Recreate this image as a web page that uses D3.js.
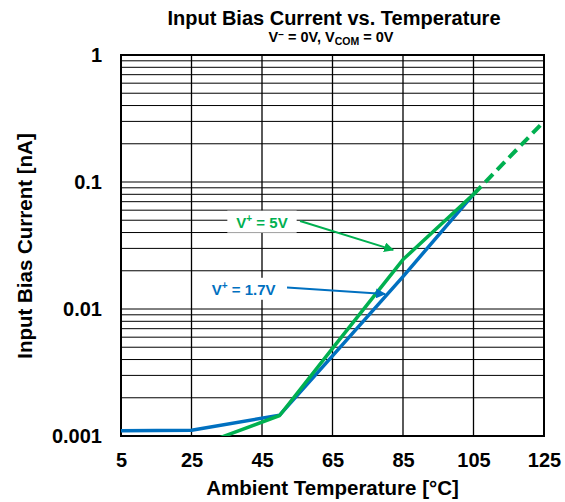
<!DOCTYPE html>
<html>
<head>
<meta charset="utf-8">
<script src="https://cdn.jsdelivr.net/npm/d3@7"></script>
<style>
  html, body { margin: 0; padding: 0; background: #fff; }
  svg text { font-family: Arial, "Liberation Sans", sans-serif; font-weight: bold; }
</style>
</head>
<body>
<svg id="chart" width="565" height="502"></svg>
<script>
// Temperature sweep (°C) and input bias current (nA) for each supply voltage
const tempLow = [5, 25, 50, 65, 85, 105];
const biasLow = [0.0011, 0.00111, 0.00146, 0.00428, 0.018, 0.08];      // V+ = 1.7V

const tempHigh = [25, 50, 65, 85, 105];
const biasHigh = [0.0008, 0.00145, 0.0049, 0.0245, 0.08];              // V+ = 5V

const tempHighExt = [105, 125];
const biasHighExt = [0.08, 0.3];                                        // V+ = 5V, extrapolated

const xTicks = [5, 25, 45, 65, 85, 105, 125];
const yTicks = [0.001, 0.01, 0.1, 1];
const yTickLabels = ["0.001", "0.01", "0.1", "1"];

const blue = "#0070C0";
const green = "#00B050";

const svg = d3.select("#chart");
const m = { left: 121, right: 544, top: 55, bottom: 436 };

const x = d3.scaleLinear().domain([5, 125]).range([m.left, m.right]);
const y = d3.scaleLog().domain([0.001, 1]).range([m.bottom, m.top]);

// Horizontal grid: every 1..9 step of each decade
const minor = [];
for (let k = 0; k < yTicks.length - 1; k++) {
  for (let j = 2; j <= 9; j++) minor.push(yTicks[k] * j);
}
svg.append("g").selectAll("line").data(minor.concat(yTicks)).join("line")
  .attr("x1", m.left).attr("x2", m.right)
  .attr("y1", d => y(d)).attr("y2", d => y(d))
  .attr("stroke", "#000").attr("stroke-width", 1);

// Vertical grid at the temperature ticks
svg.append("g").selectAll("line").data(xTicks.slice(1, -1)).join("line")
  .attr("x1", d => x(d)).attr("x2", d => x(d))
  .attr("y1", m.top).attr("y2", m.bottom)
  .attr("stroke", "#000").attr("stroke-width", 1.3);

// Plot frame
svg.append("rect")
  .attr("x", m.left).attr("y", m.top)
  .attr("width", m.right - m.left).attr("height", m.bottom - m.top)
  .attr("fill", "none").attr("stroke", "#000").attr("stroke-width", 2);

// Axes (labels only)
const xAxis = svg.append("g")
  .attr("transform", `translate(0,${m.bottom})`)
  .call(d3.axisBottom(x).tickValues(xTicks).tickSize(0).tickPadding(17).tickFormat(d3.format("d")));
xAxis.select(".domain").remove();
xAxis.selectAll("text").attr("font-size", 20).attr("fill", "#000")
  .attr("font-family", "Arial, 'Liberation Sans', sans-serif").attr("font-weight", "bold");

const yAxis = svg.append("g")
  .attr("transform", `translate(${m.left},0)`)
  .call(d3.axisLeft(y).tickValues(yTicks).tickSize(0).tickPadding(19)
    .tickFormat((d, i) => yTickLabels[i]));
yAxis.select(".domain").remove();
yAxis.selectAll("text").attr("font-size", 20).attr("fill", "#000")
  .attr("font-family", "Arial, 'Liberation Sans', sans-serif").attr("font-weight", "bold");

// Clip the curves to the plot area
svg.append("clipPath").attr("id", "plotClip").append("rect")
  .attr("x", m.left).attr("y", m.top)
  .attr("width", m.right - m.left).attr("height", m.bottom - m.top);

const line = d3.line().x(d => x(d[0])).y(d => y(d[1]));
const curves = svg.append("g").attr("clip-path", "url(#plotClip)");

curves.append("path")
  .datum(tempLow.map((t, i) => [t, biasLow[i]]))
  .attr("d", line).attr("fill", "none")
  .attr("stroke", blue).attr("stroke-width", 3.5).attr("stroke-linejoin", "round");

curves.append("path")
  .datum(tempHigh.map((t, i) => [t, biasHigh[i]]))
  .attr("d", line).attr("fill", "none")
  .attr("stroke", green).attr("stroke-width", 3.5).attr("stroke-linejoin", "round");

curves.append("path")
  .datum(tempHighExt.map((t, i) => [t, biasHighExt[i]]))
  .attr("d", line).attr("fill", "none")
  .attr("stroke", green).attr("stroke-width", 4)
  .attr("stroke-dasharray", "11,6");

// Annotations with arrows
const notes = [
  { label: "5V", color: green, tx: 45, ty: 0.0483, fromT: 55.8, fromV: 0.0493, toT: 82.2, toV: 0.0292 },
  { label: "1.7V", color: blue, tx: 39.8, ty: 0.0143, fromT: 52.1, fromV: 0.01476, toT: 79.9, toV: 0.01312 }
];

const defs = svg.append("defs");
notes.forEach((n, i) => {
  defs.append("marker")
    .attr("id", "arrow" + i)
    .attr("viewBox", "0 0 10 10").attr("refX", 9).attr("refY", 5)
    .attr("markerWidth", 5).attr("markerHeight", 5)
    .attr("markerUnits", "strokeWidth")
    .attr("orient", "auto")
    .append("path").attr("d", "M0,0 L10,5 L0,10 Z").attr("fill", n.color);
});

const noteG = svg.append("g");
notes.forEach((n, i) => {
  const t = noteG.append("text")
    .attr("x", x(n.tx)).attr("y", y(n.ty))
    .attr("text-anchor", "middle").attr("dominant-baseline", "central")
    .attr("font-size", 15).attr("fill", n.color);
  t.append("tspan").text("V");
  t.append("tspan").attr("font-size", 10).attr("dy", -4).text("+");
  t.append("tspan").attr("dy", 4).text(" = " + n.label);
  const bb = t.node().getBBox();
  noteG.insert("rect", "text")
    .attr("x", bb.x - 9).attr("y", bb.y - 2)
    .attr("width", bb.width + 18).attr("height", bb.height + 4)
    .attr("fill", "#fff");
  noteG.append("line")
    .attr("x1", x(n.fromT)).attr("y1", y(n.fromV))
    .attr("x2", x(n.toT)).attr("y2", y(n.toV))
    .attr("stroke", n.color).attr("stroke-width", 2)
    .attr("marker-end", `url(#arrow${i})`);
});

// Titles
svg.append("text").attr("x", 334).attr("y", 24.5)
  .attr("text-anchor", "middle").attr("font-size", 20).attr("fill", "#000")
  .text("Input Bias Current vs. Temperature");

const sub = svg.append("text").attr("x", 331).attr("y", 42)
  .attr("text-anchor", "middle").attr("font-size", 14.5).attr("fill", "#000");
sub.append("tspan").text("V");
sub.append("tspan").attr("font-size", 10).attr("dy", -4).text("\u2212");
sub.append("tspan").attr("dy", 4).text(" = 0V, V");
sub.append("tspan").attr("font-size", 10.5).attr("dy", 3).text("COM");
sub.append("tspan").attr("dy", -3).text(" = 0V");

svg.append("text").attr("x", 332.5).attr("y", 495)
  .attr("text-anchor", "middle").attr("font-size", 20.5).attr("fill", "#000")
  .text("Ambient Temperature [°C]");

svg.append("text")
  .attr("transform", "translate(24,246) rotate(-90)")
  .attr("text-anchor", "middle").attr("dominant-baseline", "central")
  .attr("font-size", 20.5).attr("fill", "#000")
  .text("Input Bias Current [nA]");
</script>
</body>
</html>
